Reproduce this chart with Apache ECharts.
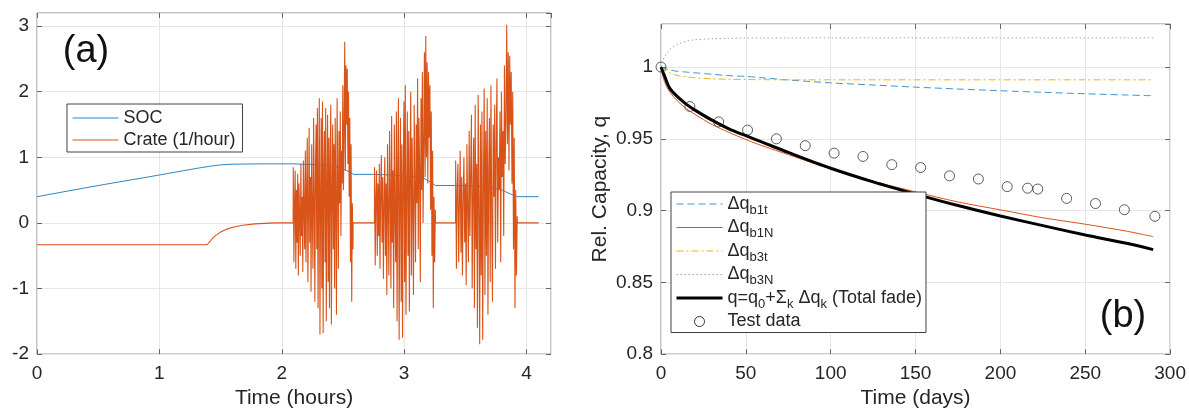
<!DOCTYPE html>
<html><head><meta charset="utf-8">
<script src="https://cdn.jsdelivr.net/npm/echarts@6/dist/echarts.min.js"></script>
<style>html,body{margin:0;padding:0;background:#fff}#c{width:1189px;height:414px}</style>
</head><body><div id="c"></div>
<script>
// ---------- Panel (a) data ----------
const socTime  = [0, 0.5, 1.0, 1.3, 1.4, 1.5, 1.6, 1.8, 2.1, 2.3, 2.4, 2.48, 2.55, 2.585, 2.76, 2.9, 3.05, 3.15, 3.2, 3.257, 3.42, 3.6, 3.7, 3.8, 3.87, 3.925, 4.1];
const socValue = [0.40, 0.57, 0.73, 0.83, 0.86, 0.885, 0.895, 0.90, 0.90, 0.885, 0.872, 0.84, 0.78, 0.74, 0.74, 0.73, 0.71, 0.69, 0.64, 0.57, 0.57, 0.56, 0.54, 0.50, 0.44, 0.40, 0.40];

const crateTime  = [0, 1.39, 1.41, 1.43, 1.46, 1.50, 1.55, 1.60, 1.68, 1.78, 1.90, 1.95, 2.093, 2.583, 2.757, 3.256, 3.42, 3.925, 4.1];
const crateValue = [-0.333, -0.333, -0.29, -0.245, -0.19, -0.14, -0.095, -0.065, -0.035, -0.015, -0.004, 0, 0, 0, 0, 0, 0, 0, 0];

const burstStart = [2.094, 2.758, 3.421];
const burstEnd   = [2.582, 3.255, 3.924];
const burst1 = [0.85, -0.6, 0.3, 0.8, -0.7, 0.5, -0.3, 0.75, -0.8, 0.6, 0.1, -0.5, 0.9, -0.2, 0.4, -0.75, 0.95, 0.2, -0.4, 1.1,
  -0.6, 0.5, 1.3, -0.9, 0.2, 1.45, -0.3, 0.7, -1.05, 1.2, 0.1, -0.7, 1.6, 0.4, -1.2, 0.9, 1.5, -0.4, 1.75, -1.3,
  0.6, 1.9, -1.7, 0.3, 1.6, -1.0, 1.85, -1.68, 0.8, 1.4, -0.6, 1.75, -1.5, 0.5, 1.65, -0.9, 1.3, -1.3, 0.9, 1.8,
  -1.55, 0.4, 1.5, -0.4, 1.2, -1.0, 1.6, 0.2, -1.4, 1.9, 0.7, -0.7, 1.4, 0.3, 1.7, -0.2, 1.1, 0.6,
  2.1, 0.5, 1.4, 2.76, 0.8, 2.4, 1.5, 2.35, 0.9, 2.0, 0.4, 1.6, -0.6, 1.2, -1.2, 0.3, -0.4];
const burst2 = [0.85, -0.65, 0.4, 0.8, -0.5, 0.6, -0.2, 0.9, -0.7, 0.5, 1.03, -0.3, 0.7, -0.85, 0.3, 1.0, -0.5, 0.6, -1.1, 1.2,
  0.2, -0.8, 1.4, 0.5, -1.0, 1.63, -0.3, 0.8, -1.3, 1.5, 0.1, -0.6, 1.7, -1.5, 0.9, 1.9, -1.78, 0.4, 1.6, -1.2,
  1.2, -1.75, 0.7, 1.85, -0.9, 2.1, -1.4, 0.5, 1.7, -0.5, 1.4, -1.35, 0.9, 2.0, -0.8, 1.3, 0.2, -1.1, 1.8, 0.6,
  -0.6, 1.5, 0.3, 2.2, -0.4, 1.6, 0.8, -0.9, 1.9, 0.5, 2.3, 0.0, 1.2, 2.6, 0.7, 2.85, 1.0,
  2.45, 0.6, 2.3, 1.3, 2.1, 0.2, 1.7, -0.5, 1.1, -1.3, 0.4, -0.6, 0.2];
const burst3 = [0.95, -0.7, 0.5, 0.9, -0.6, 0.3, 1.1, -0.45, 0.7, -0.8, 0.4, 1.0, -0.3, 0.6, -0.95, 1.2, 0.2, -0.6, 1.4, -0.2,
  0.8, 1.65, -1.0, 0.5, 1.3, -1.3, 1.8, -0.4, 0.9, -1.6, 1.95, 0.3, -1.85, 1.5, -0.8, 1.7, -1.78, 0.6, 2.05, -1.1,
  1.4, -0.5, 1.9, -1.4, 0.8, 1.6, -0.9, 2.1, 0.1, -1.2, 1.5, 0.4, 1.8, -0.7, 1.2, 2.2, -0.3, 1.0, 0.5, 1.7,
  -0.6, 2.0, 0.7, 1.4, -0.2, 2.4, 0.9, 1.6, 3.02, 1.2, 2.6, 0.8, 2.55, 1.5, 2.3, 0.6,
  2.0, -0.4, 1.3, -1.3, 0.5, -0.8, 0.1];
const bursts = [burst1, burst2, burst3];

// ---------- Panel (b) data ----------
const days   = [0, 2, 5, 10, 15, 20, 30, 40, 50, 60, 75, 100, 125, 150, 175, 200, 225, 250, 275, 290];
const qB1t   = [1.0, 0.999, 0.998, 0.997, 0.9965, 0.996, 0.995, 0.994, 0.9935, 0.9925, 0.991, 0.989, 0.9875, 0.986, 0.9847, 0.9835, 0.9824, 0.9814, 0.9805, 0.980];
const qB1N   = [1.0, 0.99, 0.983, 0.976, 0.971, 0.967, 0.960, 0.9545, 0.9495, 0.945, 0.939, 0.929, 0.9205, 0.913, 0.906, 0.9005, 0.895, 0.8905, 0.8855, 0.8818];
const qB3t   = [1.0, 0.998, 0.996, 0.994, 0.9932, 0.9925, 0.9918, 0.9915, 0.9913, 0.9912, 0.9911, 0.9911, 0.9911, 0.9911, 0.9911, 0.9911, 0.9911, 0.9911, 0.9911, 0.9911];
const qB3N   = [1.0, 1.007, 1.012, 1.016, 1.018, 1.019, 1.0197, 1.02, 1.0202, 1.0203, 1.0203, 1.0203, 1.0203, 1.0203, 1.0203, 1.0203, 1.0203, 1.0203, 1.0203, 1.0203];
const qTotal = [1.0, 0.994, 0.9855, 0.979, 0.974, 0.970, 0.963, 0.957, 0.9522, 0.9475, 0.9405, 0.9295, 0.920, 0.9115, 0.9035, 0.8962, 0.8895, 0.883, 0.877, 0.8728];
const testDays = [0, 17, 34, 51, 68, 85, 102, 119, 136, 153, 170, 187, 204, 216, 222, 239, 256, 273, 291];
const testQ    = [1.0, 0.9725, 0.9618, 0.9561, 0.950, 0.9452, 0.940, 0.9377, 0.932, 0.930, 0.9242, 0.922, 0.9167, 0.9156, 0.915, 0.9085, 0.9049, 0.9006, 0.896];

const xTicksA = {min: 0, max: 4.2, interval: 1};
const yTicksA = {min: -2, max: 3.2, interval: 1};
const xTicksB = {min: 0, max: 300, interval: 50};
const yTicksB = {min: 0.8, max: 1.03, interval: 0.05};

// ---------- build ----------
const zip = (a, b) => a.map((v, i) => [v, b[i]]);
let cratePts = zip(crateTime, crateValue);
bursts.forEach((b, k) => {
  const step = (burstEnd[k] - burstStart[k]) / (b.length - 1);
  b.forEach((v, i) => cratePts.push([burstStart[k] + i * step, v]));
});
cratePts.sort((p, q) => p[0] - q[0]);

const FONT = '"Liberation Sans", Arial, Helvetica, sans-serif';
const TXT = '#262626';
const GRIDC = '#e6e6e6';
const BOX = '#8a8a8a';
const TICK = {inside: true, length: 5, lineStyle: {color: '#666'}};

function mainX(gi, t, name) {
  return {gridIndex: gi, type: 'value', position: 'bottom', min: t.min, max: t.max, interval: t.interval,
    axisLine: {show: false, onZero: false},
    axisTick: TICK,
    axisLabel: {fontSize: 19, color: TXT, margin: 10, fontFamily: FONT, showMaxLabel: gi === 1},
    splitLine: {show: true, lineStyle: {color: GRIDC, width: 1}},
    name: name, nameLocation: 'middle', nameGap: 32,
    nameTextStyle: {fontSize: 21, color: TXT, fontFamily: FONT}};
}
function topX(gi, t) {
  return {gridIndex: gi, type: 'value', position: 'top', min: t.min, max: t.max, interval: t.interval,
    axisLine: {show: false, onZero: false}, axisLabel: {show: false}, splitLine: {show: false},
    axisTick: TICK};
}
function mainY(gi, t, name) {
  return {gridIndex: gi, type: 'value', position: 'left', min: t.min, max: t.max, interval: t.interval,
    axisLine: {show: false, onZero: false},
    axisTick: TICK,
    axisLabel: {fontSize: 19, color: TXT, margin: 8, fontFamily: FONT, showMaxLabel: false},
    splitLine: {show: true, lineStyle: {color: GRIDC, width: 1}},
    name: name, nameLocation: 'middle', nameGap: 50,
    nameTextStyle: {fontSize: 21, color: TXT, fontFamily: FONT}};
}
function rightY(gi, t) {
  return {gridIndex: gi, type: 'value', position: 'right', min: t.min, max: t.max, interval: t.interval,
    axisLine: {show: false, onZero: false}, axisLabel: {show: false}, splitLine: {show: false},
    axisTick: TICK};
}

const legendNames = {
  'b1t': '{m|Δq}{s|b1t}',
  'b1N': '{m|Δq}{s|b1N}',
  'b3t': '{m|Δq}{s|b3t}',
  'b3N': '{m|Δq}{s|b3N}',
  'total': '{m|q=q}{s|0}{m|+Σ}{s|k}{m| Δq}{s|k}{m| (Total fade)}',
  'Test data': '{m|Test data}'
};
const HIDE_SYM = {opacity: 0};
const THIN = {width: 1};

const option = {
  animation: false,
  backgroundColor: '#fff',
  grid: [
    {left: 37, top: 13, width: 514, height: 348, show: true, borderColor: BOX, borderWidth: 1, backgroundColor: '#fff'},
    {left: 661, top: 24, width: 511, height: 337, show: true, borderColor: BOX, borderWidth: 1, backgroundColor: '#fff'}
  ],
  xAxis: [mainX(0, xTicksA, 'Time (hours)'), topX(0, xTicksA), mainX(1, xTicksB, 'Time (days)'), topX(1, xTicksB)],
  yAxis: [mainY(0, yTicksA, ''), rightY(0, yTicksA), mainY(1, yTicksB, 'Rel. Capacity, q'), rightY(1, yTicksB)],
  legend: [
    {data: ['SOC', 'Crate (1/hour)'], orient: 'vertical', left: 67, top: 104,
      itemWidth: 46, itemHeight: 10, itemGap: 2, padding: [4, 7, 2, 5],
      backgroundColor: '#fff', borderColor: '#404040', borderWidth: 1,
      itemStyle: HIDE_SYM, lineStyle: THIN,
      textStyle: {fontSize: 18, color: TXT, fontFamily: FONT, lineHeight: 20}},
    {data: [{name: 'b1t', lineStyle: THIN}, {name: 'b1N', lineStyle: THIN}, {name: 'b3t', lineStyle: THIN},
            {name: 'b3N', lineStyle: THIN}, {name: 'total', lineStyle: {width: 3}},
            {name: 'Test data', itemStyle: {opacity: 1, color: 'rgba(0,0,0,0)', borderColor: '#333', borderWidth: 1}}],
      orient: 'vertical', left: 671, top: 192,
      itemWidth: 46, itemHeight: 10, itemGap: 2, padding: [3, 4, 2, 4],
      backgroundColor: '#fff', borderColor: '#404040', borderWidth: 1,
      itemStyle: HIDE_SYM,
      formatter: n => legendNames[n],
      textStyle: {fontSize: 18, color: TXT, fontFamily: FONT,
        rich: {m: {fontSize: 18, color: TXT, fontFamily: FONT, lineHeight: 25},
               s: {fontSize: 13, color: TXT, fontFamily: FONT, lineHeight: 10, verticalAlign: 'bottom'}}}}
  ],
  graphic: [
    {type: 'text', x: 86, y: 52, style: {text: '(a)', font: '38px ' + FONT, fill: '#111', align: 'center', verticalAlign: 'middle'}, z: 100},
    {type: 'text', x: 1123, y: 317, style: {text: '(b)', font: '38px ' + FONT, fill: '#111', align: 'center', verticalAlign: 'middle'}, z: 100}
  ],
  series: [
    {name: 'SOC', type: 'line', xAxisIndex: 0, yAxisIndex: 0, data: zip(socTime, socValue), symbol: 'none',
      lineStyle: {color: '#2f86c4', width: 1}, itemStyle: {color: '#2f86c4'}},
    {name: 'Crate (1/hour)', type: 'line', xAxisIndex: 0, yAxisIndex: 0, data: cratePts, symbol: 'none',
      lineStyle: {color: '#D95319', width: 1.1}, itemStyle: {color: '#D95319'}},
    {name: 'b1t', type: 'line', xAxisIndex: 2, yAxisIndex: 2, data: zip(days, qB1t), symbol: 'none', smooth: 0.3,
      lineStyle: {color: '#3f94d1', width: 1, type: [7, 4]}, itemStyle: {color: '#3f94d1'}},
    {name: 'b1N', type: 'line', xAxisIndex: 2, yAxisIndex: 2, data: zip(days, qB1N), symbol: 'none', smooth: 0.3,
      lineStyle: {color: '#D95319', width: 1}, itemStyle: {color: '#D95319'}},
    {name: 'b3t', type: 'line', xAxisIndex: 2, yAxisIndex: 2, data: zip(days, qB3t), symbol: 'none', smooth: 0.3,
      lineStyle: {color: '#EDB120', width: 1, type: [7, 3, 2, 3]}, itemStyle: {color: '#EDB120'}},
    {name: 'b3N', type: 'line', xAxisIndex: 2, yAxisIndex: 2, data: zip(days, qB3N), symbol: 'none', smooth: 0.3,
      lineStyle: {color: '#a99fb0', width: 1, type: [1.5, 2.5]}, itemStyle: {color: '#a99fb0'}},
    {name: 'total', type: 'line', xAxisIndex: 2, yAxisIndex: 2, data: zip(days, qTotal), symbol: 'none', smooth: 0.3,
      lineStyle: {color: '#000', width: 3}, itemStyle: {color: '#000'}},
    {name: 'Test data', type: 'scatter', xAxisIndex: 2, yAxisIndex: 2, data: zip(testDays, testQ), symbol: 'circle', symbolSize: 10,
      itemStyle: {color: 'rgba(0,0,0,0)', borderColor: '#333', borderWidth: 1}}
  ]
};
const chart = echarts.init(document.getElementById('c'), null, {renderer: 'canvas'});
chart.setOption(option);
</script></body></html>
